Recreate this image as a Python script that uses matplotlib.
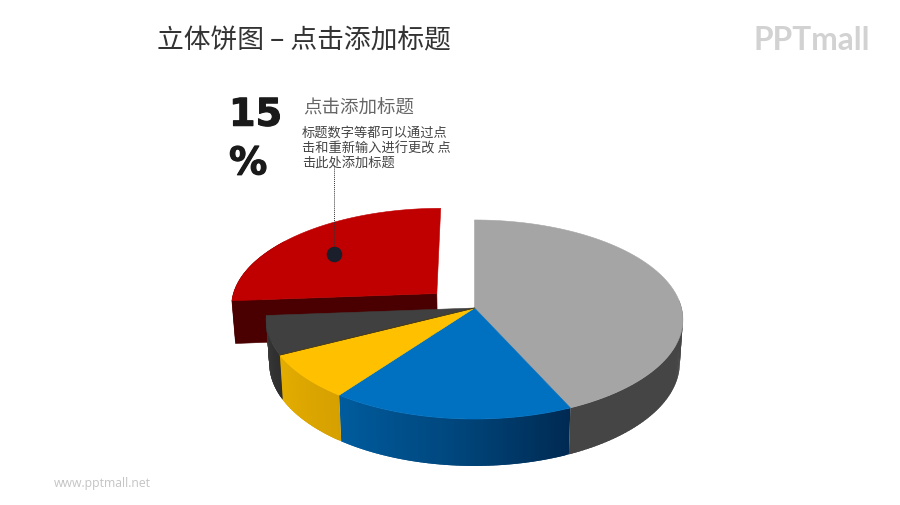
import numpy as np
import matplotlib
matplotlib.use('Agg')
import matplotlib.pyplot as plt
import matplotlib.patheffects as pe
from matplotlib.colors import to_rgb

# Slice shares, clockwise from 12 o'clock
slice_names = ['grey', 'blue', 'yellow', 'dark', 'red']
slice_values = [43.2, 16.9, 7.4, 6.3, 26.2]

title_text = '立体饼图 – 点击添加标题'
big_number = '15\n%'
sub_title = '点击添加标题'
body_lines = ['标题数字等都可以通过点', '击和重新输入进行更改 点', '击此处添加标题']

top_colors = ['#a5a5a5', '#0070c0', '#ffc000', '#404040', '#c00000']
# wall colours run in drawing order, which is clockwise (right to left on the front)
wall_colors = [['#454545', '#454545'],
               ['#002a52', '#00477e', '#005c9e'],
               ['#d6a000', '#e4ad00'],
               ['#2e2e2e', '#3a3a3a'],
               ['#4a0000', '#4a0000']]

# pie geometry in pixels (simple perspective of a flat disc)
cx, cy = 474.5, 309.0
R, c, k = 207.0, 98.2, 0.1156


def project(x, y, bottom=False):
    w = 1 / (1 + k * y)
    sx = cx + R * x * w
    sy = cy - c * y * w
    if bottom:
        sx = cx + 0.985 * (sx - cx)
        sy = cy + 43 + 1.035 * (sy - cy)
    return sx, sy


def arc(a1, a2, off=(0, 0), bottom=False, n=80):
    t = np.radians(np.linspace(a1, a2, n))
    return project(np.cos(t) + off[0], np.sin(t) + off[1], bottom)


def draw_wall(ax, a1, a2, colors, off=(0, 0)):
    # strips so the side can fade; each one runs under the next to hide the seams
    steps = 60
    edges = np.linspace(a1, a2, steps + 1)
    rgb = np.array([to_rgb(col) for col in colors])
    pos = np.linspace(0, 1, len(colors))
    for i in range(steps):
        f = (i + 0.5) / steps
        col = [np.interp(f, pos, rgb[:, j]) for j in range(3)]
        stop = edges[i + 1] - 1.0 if i < steps - 1 else edges[i + 1]
        tx, ty = arc(edges[i], stop, off, n=6)
        bx, by = arc(edges[i], stop, off, bottom=True, n=6)
        ax.fill(np.r_[tx, bx[::-1]], np.r_[ty, by[::-1]], color=col, lw=0, zorder=2)


def draw_top(ax, a1, a2, color, off=(0, 0), zorder=3):
    x, y = arc(a1, a2, off)
    ax_, ay_ = project(off[0], off[1])
    ax.fill(np.r_[ax_, x], np.r_[ay_, y], color=color, lw=0.4, zorder=zorder)


fig = plt.figure(figsize=(9, 5.06), dpi=100)
ax = fig.add_axes([0, 0, 1, 1])
ax.set_xlim(0, 900)
ax.set_ylim(506, 0)
ax.axis('off')

# slice angles, going clockwise from the top
sweep = np.array(slice_values) / np.sum(slice_values) * 360
ends = 90 - np.cumsum(sweep)
starts = np.r_[90, ends[:-1]]
red_off = (-0.185, 0.15)

# pulled-out red slice goes first, the rest of the pie sits over it
i = slice_names.index('red')
draw_wall(ax, starts[i], starts[i] - 40, wall_colors[i], red_off)
ox, oy = project(*red_off)
ox2, oy2 = project(*red_off, bottom=True)
ex, ey = arc(starts[i], starts[i], red_off, n=1)
ex2, ey2 = arc(starts[i], starts[i], red_off, bottom=True, n=1)
ax.fill([ox, ex[0], ex2[0], ox2], [oy, ey[0], ey2[0], oy2], color='#4a0000', lw=0.4, zorder=2)
draw_top(ax, starts[i], ends[i], top_colors[i], red_off, zorder=2.5)

# only the front of the pie needs a wall, so the grey one starts near 3 o'clock
for j in range(4):
    draw_wall(ax, min(starts[j], 5), ends[j], wall_colors[j])
for j in range(4):
    draw_top(ax, starts[j], ends[j], top_colors[j], zorder=3 + j * 0.1)

# thin dark seam between the yellow and dark tops
j = slice_names.index('dark')
sx, sy = arc(starts[j], starts[j], n=1)
ax.plot([cx, sx[0]], [cy, sy[0]], color='#4a3a10', lw=0.6, zorder=3.5)

# leader line and dot on the red slice
ax.plot([333.5, 333.5], [166, 255], color='#333333', lw=0.7, ls=(0, (1, 1)), zorder=4)
ax.scatter([334], [255], s=125, color='#1b1e2b', linewidths=0, zorder=5)

cjk = ['Noto Sans CJK SC', 'DejaVu Sans']
ax.text(157, 41, title_text, family=cjk, fontsize=19.3, color='#333333', va='center', ha='left')
ax.text(229, 141, big_number, family='DejaVu Sans', fontweight='bold', fontsize=27.5,
        color='#1a1a1a', va='center', ha='left', linespacing=1.45,
        path_effects=[pe.withStroke(linewidth=0.8, foreground='#1a1a1a')])
ax.text(303, 109, sub_title, family=cjk, fontsize=13.3, color='#666666', va='center', ha='left')
for line, y in zip(body_lines, [133, 148.5, 164]):
    ax.text(302, y, line, family=cjk, fontsize=9.5, color='#444444', va='center', ha='left')

ax.text(754, 40, 'PPTmall', family='Lato', fontweight='bold', fontsize=22.8, color='#d2d2d2',
        va='center', ha='left')
ax.text(54, 484, 'www.pptmall.net', family='Open Sans', fontsize=8.8, color='#c4c4c4',
        va='center', ha='left')

fig.savefig('out.png', dpi=100)
